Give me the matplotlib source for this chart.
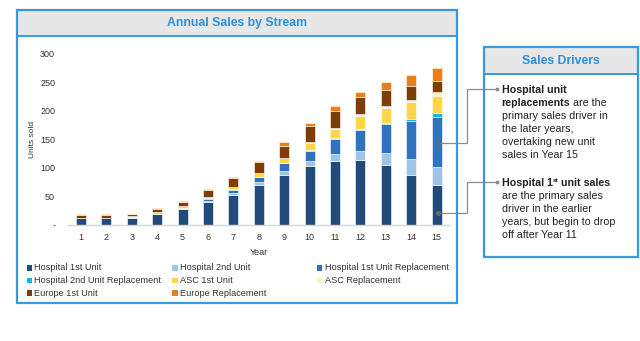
import numpy as np
import matplotlib
matplotlib.use("Agg")
import matplotlib.pyplot as plt
from matplotlib.patches import Rectangle
from matplotlib.lines import Line2D

plt.rcParams['font.family'] = ['Liberation Sans', 'DejaVu Sans']

years = list(range(1, 16))

hospital_1st = [13, 13, 13, 19, 28, 40, 53, 70, 88, 103, 113, 114, 105, 88, 71]
hospital_2nd = [0, 0, 1, 1, 1, 2, 3, 5, 6, 10, 12, 16, 21, 27, 31]
hospital_1st_repl = [0, 0, 0, 0, 1, 4, 6, 9, 14, 17, 26, 36, 51, 67, 88]
hospital_2nd_repl = [0, 0, 0, 0, 0, 0.5, 1, 1, 1, 1, 2, 2, 2, 4, 6]
asc_1st = [0, 0, 1, 2, 3, 2, 3, 6, 8, 13, 16, 23, 27, 29, 30]
asc_repl = [0, 0, 0, 0, 0, 0.5, 1, 1, 1, 1, 2, 3, 3, 5, 8]
europe_1st = [5, 5, 4, 6, 7, 12, 15, 18, 21, 28, 29, 30, 28, 24, 18]
europe_repl = [1, 1, 1, 2, 2, 2, 2, 3, 6, 6, 9, 10, 13, 19, 24]

series_names = ["Hospital 1st Unit", "Hospital 2nd Unit", "Hospital 1st Unit Replacement",
                "Hospital 2nd Unit Replacement", "ASC 1st Unit", "ASC Replacement",
                "Europe 1st Unit", "Europe Replacement"]
series_values = [hospital_1st, hospital_2nd, hospital_1st_repl, hospital_2nd_repl,
                 asc_1st, asc_repl, europe_1st, europe_repl]
series_colors = ["#224B7C", "#9FC4E8", "#2F72BD", "#22ACEE",
                 "#FFD746", "#FFF0C8", "#7E3D03", "#EC7E17"]

y_ticks = [0, 50, 100, 150, 200, 250, 300]
y_tick_labels = ["-", "50", "100", "150", "200", "250", "300"]

W, H = 640, 341
BLUE = "#3A98DE"
TEXT = "#222222"


def fx(px):
    return px / W


def fy(py):
    return 1 - py / H


fig = plt.figure(figsize=(W / 100, H / 100), dpi=100)


def box(x0, y0, x1, y1, head, title):
    # header strip + blue frame, in pixel coords from the top-left
    fig.patches.append(Rectangle((fx(x0), fy(head)), fx(x1) - fx(x0), fy(y0) - fy(head),
                                 transform=fig.transFigure, facecolor="#E7E7E7",
                                 edgecolor="none", zorder=0))
    fig.lines.append(Line2D([fx(x0), fx(x1)], [fy(head), fy(head)], transform=fig.transFigure,
                            color=BLUE, lw=1.4))
    fig.patches.append(Rectangle((fx(x0), fy(y1)), fx(x1) - fx(x0), fy(y0) - fy(y1),
                                 transform=fig.transFigure, facecolor="none",
                                 edgecolor=BLUE, lw=1.6, zorder=5))
    fig.text(fx((x0 + x1) / 2), fy((y0 + head) / 2), title, ha="center", va="center",
             color="#2E8FDC", fontsize=8.8, fontweight="bold")


box(17, 10, 457, 303, 36, "Annual Sales by Stream")
box(484, 47, 637.5, 257, 74, "Sales Drivers")

# stacked bar chart
ax = fig.add_axes([fx(68.3), fy(225), fx(449.3) - fx(68.3), fy(54) - fy(225)])
bottom = np.zeros(len(years))
for name, vals, col in zip(series_names, series_values, series_colors):
    ax.bar(years, vals, width=0.4, bottom=bottom, color=col, edgecolor="white",
           linewidth=0.4, label=name)
    bottom += np.array(vals)

ax.set_xlim(0.5, 15.5)
ax.set_ylim(0, 300)
ax.set_xticks(years)
ax.set_yticks(y_ticks)
ax.set_yticklabels(y_tick_labels)
ax.tick_params(length=0, labelsize=6.5, labelcolor="#333333")
ax.tick_params(axis="x", pad=6)
ax.tick_params(axis="y", pad=9.5)
for s in ["top", "right", "left"]:
    ax.spines[s].set_visible(False)
ax.spines["bottom"].set_color("#D6D6D6")
ax.spines["bottom"].set_linewidth(1.0)
ax.set_xlabel("Year", fontsize=6.5, color="#333333", labelpad=4)
ax.set_ylabel("Units sold", fontsize=6, color="#333333", labelpad=3)

# legend laid out row by row in three fixed-width columns
swatch_x = [26.7, 172.3, 316.7]
label_x = [34.3, 179.7, 325]
row_y = [268, 280.5, 293]
for i, (name, col) in enumerate(zip(series_names, series_colors)):
    c = i % 3
    y = row_y[i // 3]
    fig.patches.append(Rectangle((fx(swatch_x[c]), fy(y + 2.7)), fx(5.6), 5.4 / H,
                                 transform=fig.transFigure, facecolor=col, edgecolor="none"))
    fig.text(fx(label_x[c]), fy(y), name, fontsize=6.6, color="#333333", va="center")

# callout text with mixed weights
renderer = fig.canvas.get_renderer()


def put_line(x, y, parts, size=7.7):
    for txt, weight, scale, dy in parts:
        t = fig.text(fx(x), fy(y - dy), txt, fontsize=size * scale, fontweight=weight,
                     color=TEXT, va="center")
        x += t.get_window_extent(renderer).width


lines_1 = [
    [("Hospital unit", "bold", 1, 0)],
    [("replacements", "bold", 1, 0), (" are the", "normal", 1, 0)],
    [("primary sales driver in", "normal", 1, 0)],
    [("the later years,", "normal", 1, 0)],
    [("overtaking new unit", "normal", 1, 0)],
    [("sales in Year 15", "normal", 1, 0)],
]
lines_2 = [
    [("Hospital 1", "bold", 1, 0), ("st", "bold", 0.6, 2.5), (" unit sales", "bold", 1, 0)],
    [("are the primary sales", "normal", 1, 0)],
    [("driver in the earlier", "normal", 1, 0)],
    [("years, but begin to drop", "normal", 1, 0)],
    [("off after Year 11", "normal", 1, 0)],
]
for k, parts in enumerate(lines_1):
    put_line(501.5, 90 + k * 13.0, parts)
for k, parts in enumerate(lines_2):
    put_line(501.5, 183 + k * 13.0, parts)

# connector lines from the bars to the bullets
GREY = "#8C8C8C"
for by, dy in [(88.5, 143), (181.5, 213)]:
    fig.lines.append(Line2D([fx(497), fx(466.7), fx(466.7), fx(438)],
                            [fy(by), fy(by), fy(dy), fy(dy)],
                            transform=fig.transFigure, color=GREY, lw=0.9))
    fig.lines.append(Line2D([fx(438)], [fy(dy)], transform=fig.transFigure,
                            marker="o", ms=2.6, color="#666666", lw=0))
    fig.lines.append(Line2D([fx(497)], [fy(by)], transform=fig.transFigure,
                            marker="o", ms=1.8, color=GREY, lw=0))

fig.savefig("out.png", dpi=100)
